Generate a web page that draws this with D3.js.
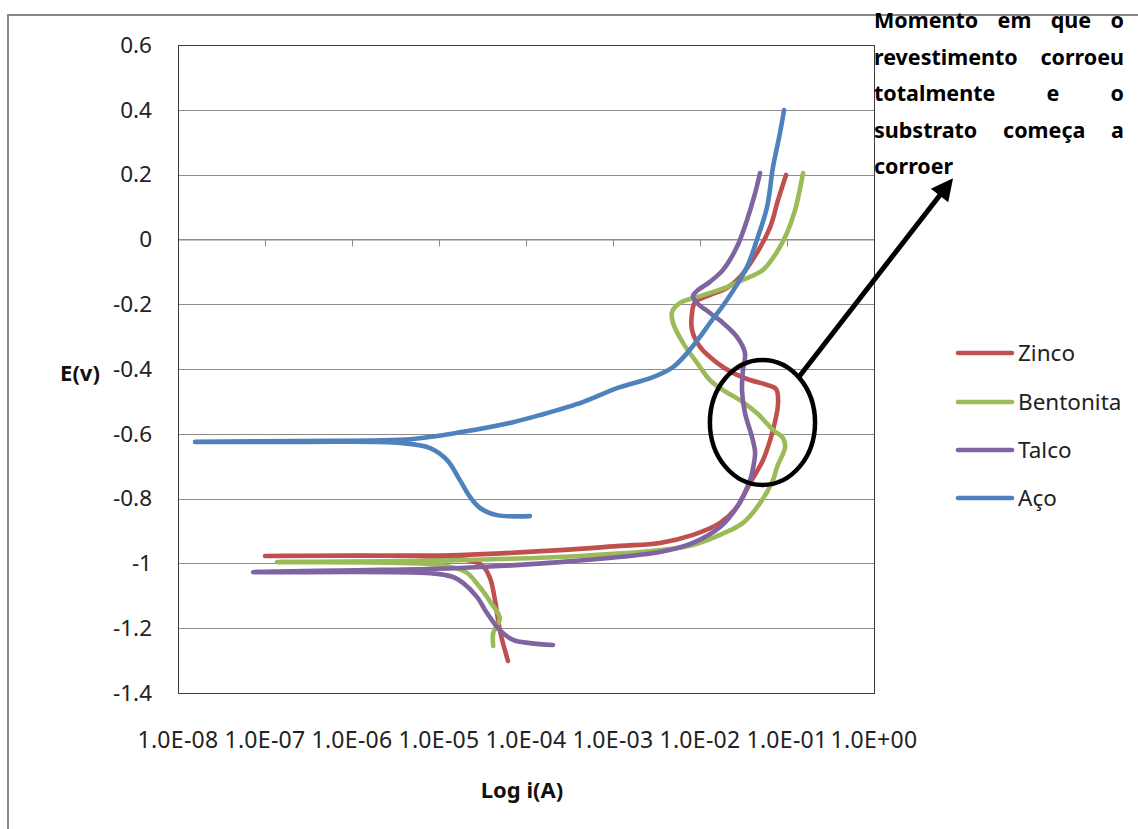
<!DOCTYPE html>
<html>
<head>
<meta charset="utf-8">
<script src="https://cdn.jsdelivr.net/npm/d3@7"></script>
<style>
  html, body { margin: 0; padding: 0; background: #fff; }
  svg { display: block; }
</style>
</head>
<body>
<svg id="chart" width="1138" height="829"></svg>
<script>
// ---------- DATA ----------
const seriesNames = ["Zinco", "Bentonita", "Talco", "Aço"];

// [current i (A), potential E (V)] in scan order
const zinco = [
  [6.2e-5,-1.301],[5.0e-5,-1.206],[4.4e-5,-1.113],[3.85e-5,-1.045],[3.1e-5,-1.005],
  [1.34e-5,-0.983],[1.0e-7,-0.977],[3.6e-6,-0.976],[1.74e-5,-0.974],[2.46e-4,-0.959],
  [1.2e-3,-0.946],[3.47e-3,-0.937],[8.3e-3,-0.912],[1.7e-2,-0.875],[2.66e-2,-0.826],
  [3.76e-2,-0.752],[5.3e-2,-0.681],[6.9e-2,-0.588],[7.9e-2,-0.505],[7.5e-2,-0.462],
  [5.9e-2,-0.449],[3.76e-2,-0.434],[2.39e-2,-0.412],[1.57e-2,-0.381],[1.0e-2,-0.332],
  [8.1e-3,-0.280],[8.1e-3,-0.227],[8.8e-3,-0.193],[1.3e-2,-0.172],[2.04e-2,-0.150],
  [2.88e-2,-0.116],[4.5e-2,-0.042],[6.4e-2,0.038],[7.9e-2,0.122],[9.75e-2,0.199]
];
const bentonita = [
  [4.2e-5,-1.255],[4.2e-5,-1.215],[5.0e-5,-1.169],[3.96e-5,-1.122],[2.88e-5,-1.070],
  [2.04e-5,-1.027],[1.03e-5,-1.005],[1.37e-7,-0.996],[3.6e-6,-0.993],[1.74e-5,-0.990],
  [4.2e-4,-0.977],[3.47e-3,-0.959],[8.3e-3,-0.943],[1.7e-2,-0.912],[3.12e-2,-0.875],
  [4.9e-2,-0.814],[6.9e-2,-0.743],[7.7e-2,-0.702],[9.5e-2,-0.641],[9.0e-2,-0.613],
  [6.9e-2,-0.588],[4.5e-2,-0.536],[2.88e-2,-0.496],[1.84e-2,-0.465],[1.3e-2,-0.434],
  [9.25e-3,-0.381],[6.4e-3,-0.320],[4.9e-3,-0.258],[4.77e-3,-0.224],[5.9e-3,-0.196],
  [1.0e-2,-0.175],[2.04e-2,-0.147],[3.12e-2,-0.125],[5.3e-2,-0.094],[7.9e-2,-0.033],
  [0.100,0.020],[0.124,0.091],[0.153,0.205]
];
const talco = [
  [2.04e-4,-1.252],[1.11e-4,-1.246],[7.1e-5,-1.236],[5.0e-5,-1.206],[3.56e-5,-1.153],
  [2.74e-5,-1.104],[1.89e-5,-1.060],[1.45e-5,-1.042],[7.9e-6,-1.030],[7.3e-8,-1.027],
  [2.1e-6,-1.020],[1.74e-5,-1.014],[2.46e-4,-0.996],[3.47e-3,-0.965],[8.3e-3,-0.937],
  [1.7e-2,-0.888],[2.66e-2,-0.826],[3.76e-2,-0.743],[3.96e-2,-0.721],[4.3e-2,-0.659],
  [3.96e-2,-0.610],[3.29e-2,-0.536],[3.04e-2,-0.465],[3.12e-2,-0.403],[3.29e-2,-0.351],
  [2.66e-2,-0.301],[1.84e-2,-0.258],[1.3e-2,-0.227],[9.25e-3,-0.196],[8.3e-3,-0.175],
  [9.25e-3,-0.159],[1.3e-2,-0.131],[1.84e-2,-0.094],[2.66e-2,-0.023],[3.47e-2,0.060],
  [4.3e-2,0.143],[4.9e-2,0.205]
];
const aco = [
  [1.11e-4,-0.854],[4.65e-5,-0.851],[2.96e-5,-0.829],[2.27e-5,-0.795],[1.74e-5,-0.743],
  [1.24e-5,-0.681],[7.9e-6,-0.644],[3.6e-6,-0.628],[2.52e-7,-0.625],[1.57e-8,-0.625],
  [2.52e-7,-0.622],[5.0e-6,-0.616],[1.89e-5,-0.594],[7.1e-5,-0.564],[1.45e-4,-0.542],
  [4.5e-4,-0.502],[1.11e-3,-0.459],[2.88e-3,-0.425],[4.9e-3,-0.394],[7.1e-3,-0.351],
  [1.0e-2,-0.301],[1.3e-2,-0.258],[2.04e-2,-0.187],[3.47e-2,-0.085],[4.5e-2,-0.002],
  [5.9e-2,0.100],[6.9e-2,0.223],[8.3e-2,0.328],[9.25e-2,0.399]
];

const xTickValues = [1e-8,1e-7,1e-6,1e-5,1e-4,1e-3,1e-2,1e-1,1];
const xTickLabels = ["1.0E-08","1.0E-07","1.0E-06","1.0E-05","1.0E-04","1.0E-03","1.0E-02","1.0E-01","1.0E+00"];
const yTickValues = [0.6,0.4,0.2,0,-0.2,-0.4,-0.6,-0.8,-1,-1.2,-1.4];
const yTickLabels = ["0.6","0.4","0.2","0","-0.2","-0.4","-0.6","-0.8","-1","-1.2","-1.4"];

const xTitle = "Log i(A)";
const yTitle = "E(v)";
const noteLines = ["Momento em que o", "revestimento corroeu", "totalmente e o", "substrato começa a", "corroer"];
// highlight ellipse bounds and arrow (data units)
const ellipseBox = { i0: 0.013, i1: 0.21, eTop: -0.372, eBottom: -0.758 };
const arrowFrom = [0.134, -0.428];
const arrowTo = [8.1, 0.189];

// ---------- STYLE / LAYOUT ----------
const colors = ["#C0504D", "#9BBB59", "#8064A2", "#4F81BD"];
const seriesData = [zinco, bentonita, talco, aco];
const plot = { left: 178, right: 874, top: 45, bottom: 693 };
const font = "'Noto Sans', 'Open Sans', sans-serif";

const svg = d3.select("#chart");
const x = d3.scaleLog().domain([1e-8, 1]).range([plot.left, plot.right]);
const y = d3.scaleLinear().domain([-1.4, 0.6]).range([plot.bottom, plot.top]);

// outer chart border
svg.append("rect").attr("x", 8).attr("y", 15).attr("width", 1300).attr("height", 1000)
  .attr("fill", "none").attr("stroke", "#878787").attr("stroke-width", 2);

// gridlines
svg.append("g").selectAll("line").data(yTickValues).join("line")
  .attr("x1", plot.left).attr("x2", plot.right)
  .attr("y1", d => Math.round(y(d)) + 0.5).attr("y2", d => Math.round(y(d)) + 0.5)
  .attr("stroke", "#8c8c8c").attr("stroke-width", 1);

// horizontal axis at E = 0 with tick marks
const xAxis = d3.axisBottom(x).tickValues(xTickValues).tickFormat("").tickSizeInner(7).tickSizeOuter(0);
const xAxisG = svg.append("g").attr("transform", `translate(0,${Math.round(y(0)) + 0.5})`).call(xAxis);
xAxisG.selectAll("path, line").attr("stroke", "#8c8c8c");

// plot frame
svg.append("rect").attr("x", plot.left + 0.5).attr("y", plot.top + 0.5)
  .attr("width", plot.right - plot.left).attr("height", plot.bottom - plot.top)
  .attr("fill", "none").attr("stroke", "#3a3a3a").attr("stroke-width", 1);

// y tick labels
svg.append("g").selectAll("text").data(yTickValues).join("text")
  .attr("x", 152).attr("y", d => y(d)).attr("dy", "0.35em")
  .attr("text-anchor", "end").attr("font-family", font).attr("font-size", 22.5).attr("fill", "#222")
  .text((d, i) => yTickLabels[i]);

// x tick labels (low position)
svg.append("g").selectAll("text").data(xTickValues).join("text")
  .attr("x", d => x(d)).attr("y", 740).attr("dy", "0.35em")
  .attr("text-anchor", "middle").attr("font-family", font).attr("font-size", 23).attr("fill", "#222")
  .attr("letter-spacing", 0.3)
  .text((d, i) => xTickLabels[i]);

// axis titles
svg.append("text").attr("x", 80).attr("y", 373).attr("dy", "0.35em").attr("text-anchor", "middle")
  .attr("font-family", font).attr("font-weight", "bold").attr("font-size", 22).attr("fill", "#111").text(yTitle);
svg.append("text").attr("x", 522).attr("y", 790).attr("dy", "0.35em").attr("text-anchor", "middle")
  .attr("font-family", font).attr("font-weight", "bold").attr("font-size", 22).attr("fill", "#111").text(xTitle);

// series lines
const line = d3.line().x(d => x(d[0])).y(d => y(d[1])).curve(d3.curveCatmullRom.alpha(0.5));
svg.append("g").selectAll("path").data(seriesData).join("path")
  .attr("d", line).attr("fill", "none")
  .attr("stroke", (d, i) => colors[i]).attr("stroke-width", 4.6)
  .attr("stroke-linecap", "round").attr("stroke-linejoin", "round");

// legend
const legendY = [353, 402, 450, 498];
const lg = svg.append("g").selectAll("g").data(seriesNames).join("g")
  .attr("transform", (d, i) => `translate(958,${legendY[i]})`);
lg.append("line").attr("x1", 0).attr("x2", 54).attr("y1", 0).attr("y2", 0)
  .attr("stroke", (d, i) => colors[i]).attr("stroke-width", 4.6).attr("stroke-linecap", "round");
lg.append("text").attr("x", 60).attr("dy", "0.35em").attr("font-family", font).attr("font-size", 22.5)
  .attr("fill", "#222").text(d => d);

// highlight ellipse
const ex0 = x(ellipseBox.i0), ex1 = x(ellipseBox.i1), ey0 = y(ellipseBox.eTop), ey1 = y(ellipseBox.eBottom);
svg.append("ellipse").attr("cx", (ex0 + ex1) / 2).attr("cy", (ey0 + ey1) / 2)
  .attr("rx", (ex1 - ex0) / 2).attr("ry", (ey1 - ey0) / 2)
  .attr("fill", "none").attr("stroke", "#000").attr("stroke-width", 4.5);

// arrow
const ax0 = x(arrowFrom[0]), ay0 = y(arrowFrom[1]), ax1 = x(arrowTo[0]), ay1 = y(arrowTo[1]);
const ang = Math.atan2(ay1 - ay0, ax1 - ax0);
const headLen = 22, headW = 11;
const bx = ax1 - headLen * Math.cos(ang), by = ay1 - headLen * Math.sin(ang);
svg.append("line").attr("x1", ax0).attr("y1", ay0).attr("x2", bx + 3 * Math.cos(ang)).attr("y2", by + 3 * Math.sin(ang))
  .attr("stroke", "#000").attr("stroke-width", 5);
svg.append("path")
  .attr("d", `M${ax1},${ay1} L${bx - headW * Math.sin(ang)},${by + headW * Math.cos(ang)} L${bx + headW * Math.sin(ang)},${by - headW * Math.cos(ang)} Z`)
  .attr("fill", "#000");

// annotation text, justified
const noteX = 874, noteW = 250, noteBase = 28, noteLH = 36.5;
noteLines.forEach((ln, li) => {
  const t = svg.append("text").attr("y", noteBase + li * noteLH)
    .attr("font-family", font).attr("font-weight", "bold").attr("font-size", 21.5).attr("fill", "#000");
  const words = ln.split(" ");
  if (li === noteLines.length - 1 || words.length === 1) {
    t.attr("x", noteX).text(ln);
    return;
  }
  const spans = words.map(w => t.append("tspan").text(w));
  const widths = spans.map(s => s.node().getComputedTextLength());
  const total = d3.sum(widths);
  const gap = (noteW - total) / (words.length - 1);
  let cx = noteX;
  spans.forEach((s, k) => { s.attr("x", cx); cx += widths[k] + gap; });
});
</script>
</body>
</html>
